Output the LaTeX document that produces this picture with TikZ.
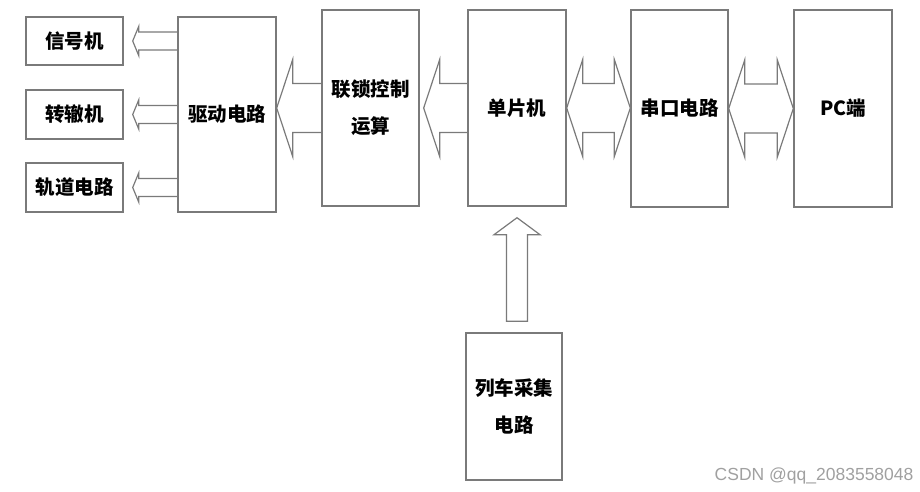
\documentclass[tikz,border=0pt]{standalone}
\usepackage{fontspec}
\usepackage{tikz}
\usetikzlibrary{calc,positioning}
\newfontfamily\cjk{Noto Sans CJK SC}
\newfontfamily\markfont{Liberation Sans}
\definecolor{Edge}{HTML}{7A7A7A}
\definecolor{Mark}{HTML}{A0A0A0}
\tikzset{
  blk/.style={rectangle,draw=Edge,line width=1.4pt,fill=white,inner sep=0pt,
    align=center,font=\cjk\bfseries\fontsize{19.5}{37}\selectfont},
  dev/.style={blk,minimum width=97pt,minimum height=48pt},
  tall/.style={blk,minimum width=97pt,minimum height=196pt},
  fat/.style={draw=Edge,line width=1.2pt,line join=miter}
}
% hollow block arrow pointing left: tail, tip, body half, head half, head length
\newcommand{\fatleft}[5]{%
  \draw[fat] let \p1=(#1), \p2=(#2) in
    (\x1,\y1+#3) -- (\x2+#5,\y1+#3) -- (\x2+#5,\y1+#4) -- (\x2,\y1)
    -- (\x2+#5,\y1-#4) -- (\x2+#5,\y1-#3) -- (\x1,\y1-#3);}
% hollow block arrow with two heads: left tip, right tip, body half, head half, head length
\newcommand{\fatboth}[5]{%
  \draw[fat] let \p1=(#1), \p2=(#2) in
    (\x1,\y1) -- (\x1+#5,\y1+#4) -- (\x1+#5,\y1+#3) -- (\x2-#5,\y1+#3)
    -- (\x2-#5,\y1+#4) -- (\x2,\y1) -- (\x2-#5,\y1-#4) -- (\x2-#5,\y1-#3)
    -- (\x1+#5,\y1-#3) -- (\x1+#5,\y1-#4) -- cycle;}
% hollow block arrow pointing up: tail, tip, body half, head half, head length
\newcommand{\fatup}[5]{%
  \draw[fat] let \p1=(#1), \p2=(#2) in
    (\x2-#3,\y1) -- (\x2-#3,\y2-#5) -- (\x2-#4,\y2-#5) -- (\x2,\y2)
    -- (\x2+#4,\y2-#5) -- (\x2+#3,\y2-#5) -- (\x2+#3,\y1) -- cycle;}

\begin{document}
\begin{tikzpicture}[x=1pt,y=-1pt]
    \useasboundingbox (0,0) rectangle (920,491);
    % devices
    \node[dev] (sig) at (74.5,41) {信号机};
    \node[dev,minimum height=49pt] (turn) at (74.5,114.5) {转辙机};
    \node[dev,minimum height=49pt] (track) at (74.5,187.5) {轨道电路};
    % main chain
    \node[tall,minimum width=98pt,minimum height=195pt] (drv) at (227,114.5) {驱动电路};
    \node[tall] (lock) at (370.5,108) {联锁控制\\运算};
    \node[tall,minimum width=98pt] (mcu) at (517,108) {单片机};
    \node[tall,minimum height=197pt] (uart) at (679.5,108.5) {串口电路};
    \node[tall,minimum width=98pt,minimum height=197pt] (pc) at (843,108.5) {PC端};
    \node[blk,minimum width=96pt,minimum height=147pt] (acq) at (514,406.5) {列车采集\\电路};
    % block arrows
    \coordinate (t1) at ($(sig.east)+(9,0)$);
    \coordinate (t2) at ($(turn.east)+(9,0)$);
    \coordinate (t3) at ($(track.east)+(9,0)$);
    \fatleft{drv.west |- sig.east}{t1}{9pt}{14.5pt}{6pt}
    \fatleft{drv.west |- turn.east}{t2}{9pt}{14.5pt}{6pt}
    \fatleft{drv.west |- track.east}{t3}{9pt}{14.5pt}{6pt}
    \fatleft{lock.west}{drv.east |- lock.west}{24.5pt}{48.5pt}{16pt}
    \coordinate (t4) at ($(lock.east)+(4,0)$);
    \fatleft{mcu.west}{t4}{24.5pt}{48.5pt}{16pt}
    \fatboth{mcu.east}{uart.west |- mcu.east}{24.5pt}{48.5pt}{16pt}
    \fatboth{uart.east}{pc.west |- uart.east}{24.5pt}{48.5pt}{16pt}
    \coordinate (u1) at ($(acq.north -| mcu.south)+(0,-11)$);
    \coordinate (u2) at ($(mcu.south)+(0,11)$);
    \fatup{u1}{u2}{10.5pt}{23pt}{17pt}
    \node[anchor=east,text=Mark,font=\markfont\fontsize{17.5}{20}\selectfont] (csdn) at (917,476) {CSDN @qq\_2083558048};
  \end{tikzpicture}
\end{document}
